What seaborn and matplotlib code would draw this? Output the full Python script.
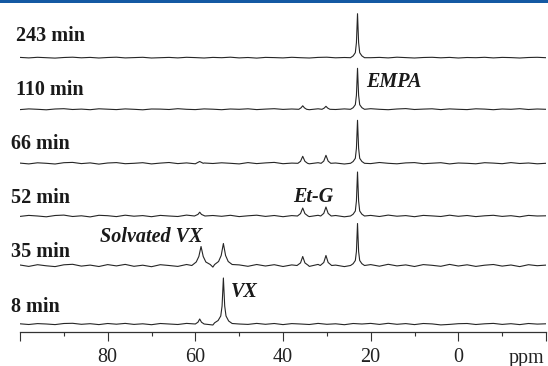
import numpy as np
import pandas as pd
import matplotlib
matplotlib.use("Agg")
import matplotlib.pyplot as plt
from matplotlib.patches import Rectangle
import seaborn as sns

# ---------------- data ----------------
spectra = ["243 min", "110 min", "66 min", "52 min", "35 min", "8 min"]

grid_ppm = [100, 98, 96, 94, 92, 90, 88, 86, 84, 82,
            80, 78, 76, 74, 72, 70, 68, 66, 64, 62,
            60, 58, 56, 54, 52, 50, 48, 46, 44, 42,
            40, 38, 36, 34, 32, 30, 28, 26, 24, 22,
            20, 18, 16, 14, 12, 10, 8, 6, 4, 2,
            0, -2, -4, -6, -8, -10, -12, -14, -16, -18,
            -20]

noise_243 = [0.3, -0.2, 0.4, 0.0, -0.4, 0.2, 0.5, -0.1, 0.3, -0.3,
             0.2, 0.5, -0.2, 0.1, 0.4, -0.3, 0.0, 0.3, -0.2, 0.4,
             0.1, -0.3, 0.3, 0.0, 0.5, -0.2, 0.2, -0.4, 0.3, 0.1,
             -0.2, 0.4, 0.0, -0.3, 0.3, 0.5, -0.1, 0.2, -0.3, 0.4,
             0.0, 0.3, -0.2, 0.5, 0.1, -0.3, 0.2, 0.4, -0.1, 0.3,
             -0.3, 0.2, 0.0, 0.4, -0.2, 0.3, 0.1, -0.3, 0.2, 0.4,
             0.0]
noise_110 = [-0.3, 0.4, 0.0, -0.5, 0.3, 0.6, -0.2, 0.2, -0.4, 0.5,
             0.1, -0.3, 0.4, 0.0, -0.5, 0.3, 0.2, -0.2, 0.6, 0.0,
             -0.3, 0.4, 0.1, -0.4, 0.3, 0.0, 0.5, -0.3, 0.2, 0.6,
             -0.1, 0.3, 0.0, -0.4, 0.5, 0.0, -0.2, 0.4, 0.1, -0.3,
             0.6, 0.0, -0.4, 0.3, 0.7, -0.2, 0.2, 0.5, -0.3, 0.4,
             0.0, -0.3, 0.5, 0.2, -0.4, 0.3, 0.0, 0.6, -0.2, 0.3,
             0.0]
noise_66 = [0.2, -0.6, 0.5, 0.0, -0.7, 0.6, 0.9, -0.3, 0.4, -0.8,
            0.3, 0.7, -0.4, 0.0, 0.6, -0.6, 0.2, 0.8, -0.3, 0.4,
            -0.5, 0.3, -0.2, 0.5, 0.0, -0.6, 0.7, -0.3, 0.4, 0.9,
            -0.4, 0.2, 0.0, -0.5, 0.6, -0.2, 0.3, -0.7, 0.5, 0.1,
            -0.3, 0.8, 0.0, -0.5, 0.4, 0.7, -0.4, 0.1, 0.6, -0.6,
            0.3, 0.0, -0.5, 0.6, 0.2, -0.4, 0.7, -0.2, 0.3, -0.5,
            0.0]
noise_52 = [-0.4, 0.6, 0.0, -0.8, 0.5, 0.9, -0.5, 0.2, -0.9, 0.7,
            0.3, -0.6, 0.8, -0.2, 0.4, -0.7, 0.6, 0.0, -0.5, 0.9,
            0.0, -0.8, 0.5, -0.3, 0.7, -0.6, 0.2, 0.8, -0.4, 0.5,
            -0.7, 0.4, 0.0, -0.6, 0.7, -0.3, 0.5, -0.8, 0.3, 0.0,
            0.6, -0.5, 0.9, -0.2, 0.4, -0.7, 0.6, 0.1, -0.5, 0.8,
            -0.3, 0.5, -0.6, 0.2, 0.7, -0.4, 0.3, -0.8, 0.6, 0.0,
            0.2]
noise_35 = [0.5, -0.9, 0.8, -0.3, -1.1, 0.7, 1.2, -0.6, 0.4, -1.0,
            0.9, -0.4, 1.1, -0.8, 0.3, -1.2, 0.8, 0.0, -0.9, 1.0,
            0.0, -1.0, -1.6, 0.2, 1.6, 0.6, -0.8, 1.0, -0.5, 0.8,
            -1.0, 0.6, 0.0, -0.9, 1.1, -0.6, 0.4, -1.1, 0.8, 0.0,
            0.9, -0.7, 1.2, -0.4, 0.6, -1.0, 0.9, 0.2, -0.8, 1.1,
            -0.5, 0.7, -0.9, 0.3, 1.0, -0.6, 0.5, -1.1, 0.8, -0.2,
            0.4]
noise_8 = [0.2, -0.5, 0.4, 0.0, -0.6, 0.5, 0.7, -0.3, 0.3, -0.6,
           0.5, -0.2, 0.6, -0.4, 0.2, -0.7, 0.5, 0.0, -0.5, 0.6,
           0.0, 0.3, -1.0, 0.8, 1.2, 0.0, -0.4, 0.6, -0.3, 0.5,
           -0.6, 0.4, 0.0, -0.5, 0.6, -0.3, 0.2, -0.7, 0.5, 0.0,
           0.6, -0.4, 0.7, -0.3, 0.4, -0.6, 0.5, 0.1, -0.9, -0.4,
           0.3, 0.5, -0.5, 0.2, 0.6, -0.4, 0.3, -0.6, 0.5, -0.1,
           0.2]

# peaks: explicit (ppm, intensity) points
empa_243 = ([24.6, 24.0, 23.5, 23.25, 23.0, 22.75, 22.5, 22.0, 21.4],
            [0.0, 1.8, 5.0, 15.0, 44.0, 15.0, 5.0, 1.8, 0.0])
empa_110 = ([24.6, 24.0, 23.5, 23.25, 23.0, 22.75, 22.5, 22.0, 21.4],
            [0.0, 1.6, 4.6, 14.0, 41.0, 14.0, 4.6, 1.6, 0.0])
etg1_110 = ([36.4, 35.9, 35.5, 35.1, 34.6], [0.0, 1.4, 3.5, 1.4, 0.0])
etg2_110 = ([31.1, 30.6, 30.2, 29.8, 29.3], [0.0, 1.2, 3.0, 1.2, 0.0])
empa_66 = ([24.6, 24.0, 23.5, 23.25, 23.0, 22.75, 22.5, 22.0, 21.4],
           [0.0, 1.8, 5.0, 15.0, 43.0, 15.0, 5.0, 1.8, 0.0])
etg1_66 = ([36.6, 36.0, 35.5, 35.0, 34.4], [0.0, 2.0, 7.0, 2.0, 0.0])
etg2_66 = ([31.3, 30.7, 30.2, 29.7, 29.1], [0.0, 2.2, 8.0, 2.2, 0.0])
svx_66 = ([59.8, 59.0, 58.2], [0.0, 1.8, 0.0])
empa_52 = ([24.6, 24.0, 23.5, 23.25, 23.0, 22.75, 22.5, 22.0, 21.4],
           [0.0, 1.8, 5.0, 15.0, 44.0, 15.0, 5.0, 1.8, 0.0])
etg1_52 = ([36.7, 36.0, 35.5, 35.0, 34.3], [0.0, 2.4, 8.0, 2.4, 0.0])
etg2_52 = ([31.4, 30.7, 30.2, 29.7, 29.0], [0.0, 2.6, 9.0, 2.6, 0.0])
svx_52 = ([60.2, 59.4, 59.0, 58.6, 57.8], [0.0, 1.6, 3.8, 1.6, 0.0])
empa_35 = ([24.6, 24.0, 23.5, 23.25, 23.0, 22.75, 22.5, 22.0, 21.4],
           [0.0, 1.8, 5.0, 14.0, 42.0, 14.0, 5.0, 1.8, 0.0])
etg1_35 = ([36.8, 36.0, 35.5, 35.0, 34.2], [0.0, 2.6, 9.0, 2.6, 0.0])
etg2_35 = ([31.5, 30.7, 30.2, 29.7, 28.9], [0.0, 3.0, 10.0, 3.0, 0.0])
svx_35 = ([60.8, 59.8, 59.2, 58.7, 58.2, 57.6, 56.6],
          [0.0, 3.5, 9.0, 19.0, 9.0, 3.5, 1.0])
vx_35 = ([55.6, 54.7, 54.1, 53.6, 53.1, 52.5, 51.6],
         [1.0, 4.0, 10.0, 22.0, 10.0, 4.0, 1.0])
vx_8 = ([55.6, 54.8, 54.2, 53.9, 53.6, 53.3, 53.0, 52.4, 51.6],
        [1.2, 3.5, 8.0, 18.0, 46.0, 18.0, 8.0, 3.0, 0.5])
svx_8 = ([60.0, 59.4, 59.0, 58.6, 58.0], [0.0, 1.8, 5.0, 1.8, 0.0])

noises = [noise_243, noise_110, noise_66, noise_52, noise_35, noise_8]
peaks = [
    [empa_243],
    [empa_110, etg1_110, etg2_110],
    [empa_66, etg1_66, etg2_66, svx_66],
    [empa_52, etg1_52, etg2_52, svx_52],
    [empa_35, etg1_35, etg2_35, svx_35, vx_35],
    [vx_8, svx_8],
]

tick_values = [100, 80, 60, 40, 20, 0, -20]
tick_labels = ["", "80", "60", "40", "20", "0", ""]
minor_ticks = [90, 70, 50, 30, 10, -10]

annotations = ["EMPA", "Et-G", "Solvated VX", "VX"]

# ---------------- layout (pixels of the 548x366 figure) ----------------
W, H = 548, 366
AX_L, AX_R, AX_B = 20, 546, 332.3
baselines_px = [57.7, 109.3, 163.3, 216.0, 265.5, 324.0]
label_x = [16, 16, 11, 11, 11, 11]
label_y = [36, 90, 144, 198, 251.7, 307.5]
ann_x = [366, 292.7, 100, 230.7]
ann_y = [81.7, 196.7, 236.5, 291.7]

# ---------------- build long table ----------------
rows = []
for name, base_px, noise, plist in zip(spectra, baselines_px, noises, peaks):
    offset = AX_B - base_px
    spans = [(min(p[0]), max(p[0])) for p in plist]
    for x, n in zip(grid_ppm, noise):
        if not any(lo <= x <= hi for lo, hi in spans):
            rows.append((name, x, n + offset))
    for px_list, iy in plist:
        for x, v in zip(px_list, iy):
            rows.append((name, x, v + offset))
df = pd.DataFrame(rows, columns=["spectrum", "ppm", "y"])

# ---------------- plot ----------------
sns.set_theme(style="white")
plt.rcParams["font.family"] = ["Liberation Serif", "DejaVu Serif"]

fig = plt.figure(figsize=(W / 100, H / 100), dpi=100)
ax = fig.add_axes([AX_L / W, (H - AX_B) / H, (AX_R - AX_L) / W, AX_B / H])
ax.set_facecolor("none")

sns.lineplot(data=df, x="ppm", y="y", units="spectrum", estimator=None,
             sort=True, color="#262626", linewidth=0.8, legend=False, ax=ax)

ax.set_xlim(100, -20)
ax.set_ylim(0, AX_B)
for s in ["left", "top", "right"]:
    ax.spines[s].set_visible(False)
ax.spines["bottom"].set_color("#333333")
ax.spines["bottom"].set_linewidth(0.9)
ax.set_yticks([])
ax.set_xticks(tick_values)
ax.set_xticklabels(tick_labels)
ax.set_xticks(minor_ticks, minor=True)
ax.tick_params(axis="x", which="major", direction="out", length=6.5, width=0.8,
               color="#333333", pad=5, labelsize=14.5, labelcolor="#222222",
               bottom=True)
ax.tick_params(axis="x", which="minor", direction="out", length=3, width=0.8,
               color="#333333", bottom=True)
ax.set_xlabel("")
ax.set_ylabel("")

fig.text(526.7 / W, 1 - 362.5 / H, "ppm", ha="center", va="baseline",
         fontsize=14.5, color="#222222")

for lab, x, y in zip(spectra, label_x, label_y):
    fig.text(x / W, 1 - y / H, lab, ha="left", va="center", fontsize=14.5,
             fontweight="bold", color="#1a1a1a")

for lab, x, y in zip(annotations, ann_x, ann_y):
    fig.text(x / W, 1 - y / H, lab, ha="left", va="center", fontsize=14.5,
             fontweight="bold", fontstyle="italic", color="#1a1a1a")

fig.add_artist(Rectangle((0, 1 - 3 / H), 1, 3 / H, transform=fig.transFigure,
                         color="#1459a3", lw=0))

fig.savefig("out.png", dpi=100)
